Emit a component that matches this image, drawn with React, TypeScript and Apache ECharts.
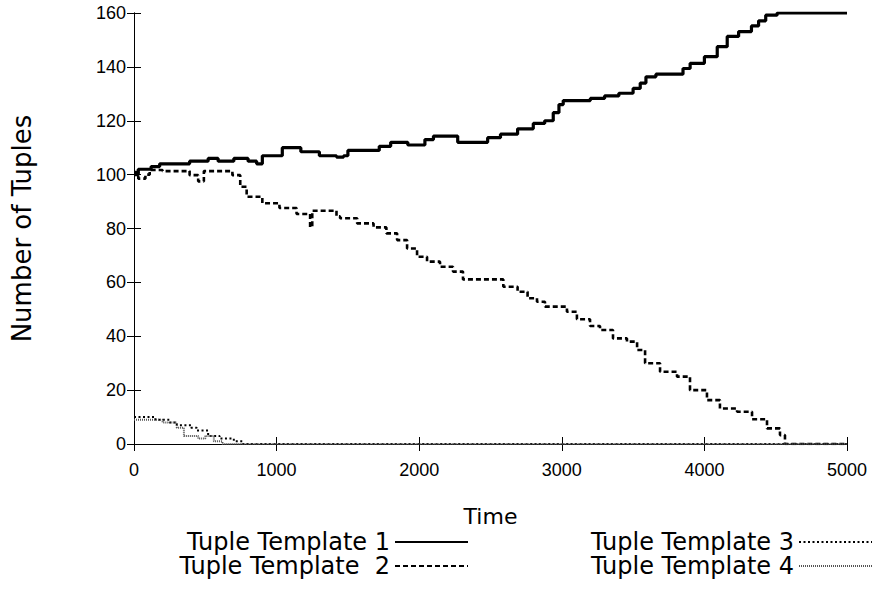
import React, { useEffect, useRef } from "react";
import * as echarts from "echarts";

const seriesNames = ["Tuple Template 1", "Tuple Template  2", "Tuple Template 3", "Tuple Template 4"];

const template1: [number, number][] = [
  [0, 100], [30, 102], [120, 103], [180, 104], [390, 105], [520, 106], [590, 105], [700, 106],
  [800, 105], [860, 104], [900, 107], [1040, 110], [1170, 108.5], [1300, 107], [1420, 106.5],
  [1470, 107], [1500, 109], [1720, 110.5], [1800, 112], [1920, 111], [2040, 113], [2100, 114.3],
  [2270, 112], [2480, 113.7], [2570, 115], [2690, 117], [2800, 119], [2880, 120], [2940, 123],
  [2980, 126], [3010, 127.5], [3200, 128.3], [3300, 129.2], [3400, 130.2], [3500, 132], [3550, 134],
  [3590, 136.3], [3660, 137.3], [3850, 139.4], [3900, 141.3], [4000, 143.8], [4090, 147.5],
  [4160, 151.3], [4240, 153.1], [4330, 155.2], [4380, 157.1], [4430, 159.2], [4510, 160], [5000, 160],
];

const template2: [number, number][] = [
  [0, 101], [30, 98.5], [80, 100], [110, 101.7], [200, 101.3], [390, 99.8], [450, 97.5], [490, 101.3],
  [690, 99.8], [745, 95.5], [790, 91.8], [900, 89.4], [1020, 87.6], [1140, 85.4], [1235, 80.5],
  [1250, 86.6], [1420, 84.5], [1445, 83.8], [1565, 81.9], [1680, 80.4], [1770, 78.2], [1845, 75.7],
  [1915, 72.6], [1985, 69.5], [2055, 67.7], [2146, 65.8], [2237, 64], [2307, 61.1], [2590, 58.4],
  [2690, 56.5], [2760, 54.1], [2826, 52.8], [2882, 51], [3036, 49.1], [3106, 46.3], [3198, 43.8],
  [3268, 42.3], [3359, 39.2], [3457, 38], [3528, 34.9], [3584, 30], [3689, 26.8], [3808, 25],
  [3899, 20], [4018, 16.3], [4109, 13.2], [4229, 12], [4334, 9.2], [4439, 5.8], [4530, 3.3],
  [4565, 0], [5000, 0],
];

const template3: [number, number][] = [
  [0, 10], [100, 10], [150, 9], [250, 8], [300, 7], [400, 6], [440, 5], [520, 3], [600, 2],
  [700, 1], [760, 0], [5000, 0],
];

const template4: [number, number][] = [
  [0, 9], [120, 9], [200, 8], [300, 6], [350, 3], [450, 2], [500, 3], [560, 1], [620, 0], [5000, 0],
];

const xTicks = { min: 0, max: 5000, interval: 1000 };
const yTicks = { min: 0, max: 160, interval: 20 };

const TICK_FONT = "Liberation Sans";
const TEXT_FONT = "DejaVu Sans";

export default function App() {
  const ref = useRef<HTMLDivElement>(null);
  useEffect(() => {
    if (!ref.current) return;
    const chart = echarts.init(ref.current, null, { renderer: "svg" });
    const axisCommon = {
      axisLine: { show: true, lineStyle: { color: "#000", width: 1 } },
      axisTick: { show: true, inside: true, length: 7, lineStyle: { color: "#000" } },
      splitLine: { show: false },
    };
    const legendCommon = {
      orient: "vertical",
      top: 525,
      align: "right",
      itemWidth: 73,
      itemHeight: 12,
      itemGap: 0,
      selectedMode: false,
      itemStyle: { opacity: 0 },
      textStyle: { color: "#000", fontSize: 24, fontFamily: TEXT_FONT, lineHeight: 22 },
    };
    chart.setOption({
      animation: false,
      backgroundColor: "#fff",
      grid: { left: 134, right: 36, top: 13, bottom: 168 },
      xAxis: [
        {
          type: "value", ...xTicks, position: "bottom", ...axisCommon,
          axisLabel: { color: "#000", fontSize: 18, fontFamily: TICK_FONT, margin: 17, formatter: (v: number) => String(v) },
          name: "Time", nameLocation: "middle", nameGap: 61,
          nameTextStyle: { color: "#000", fontSize: 22, fontFamily: TEXT_FONT },
        },
        { type: "value", ...xTicks, position: "top", ...axisCommon, axisLabel: { show: false } },
      ],
      yAxis: [
        {
          type: "value", ...yTicks, position: "left", ...axisCommon,
          axisLabel: { color: "#000", fontSize: 18, fontFamily: TICK_FONT, margin: 8, formatter: (v: number) => String(v) },
          name: "Number of Tuples", nameLocation: "middle", nameGap: 99,
          nameTextStyle: { color: "#000", fontSize: 26, fontFamily: TEXT_FONT },
        },
        { type: "value", ...yTicks, position: "right", ...axisCommon, axisLabel: { show: false } },
      ],
      legend: [
        { ...legendCommon, data: [seriesNames[0], seriesNames[1]], right: 409 },
        { ...legendCommon, data: [seriesNames[2], seriesNames[3]], right: 5 },
      ],
      series: [
        {
          name: seriesNames[0], type: "line", step: "end", data: template1, symbol: "none",
          lineStyle: { color: "#000", width: 3.2 }, itemStyle: { color: "#000" },
        },
        {
          name: seriesNames[1], type: "line", step: "end", data: template2, symbol: "none",
          lineStyle: { color: "#000", width: 2.6, type: [5, 3] }, itemStyle: { color: "#000" },
        },
        {
          name: seriesNames[2], type: "line", step: "end", data: template3, symbol: "none",
          lineStyle: { color: "#000", width: 2, type: [2, 2.5] }, itemStyle: { color: "#000" },
        },
        {
          name: seriesNames[3], type: "line", step: "end", data: template4, symbol: "none",
          lineStyle: { color: "#555", width: 2, type: [1, 1] }, itemStyle: { color: "#555" },
        },
      ],
    });
    return () => chart.dispose();
  }, []);
  return <div ref={ref} style={{ position: "absolute", left: 0, top: 0, width: 883, height: 612 }} />;
}
